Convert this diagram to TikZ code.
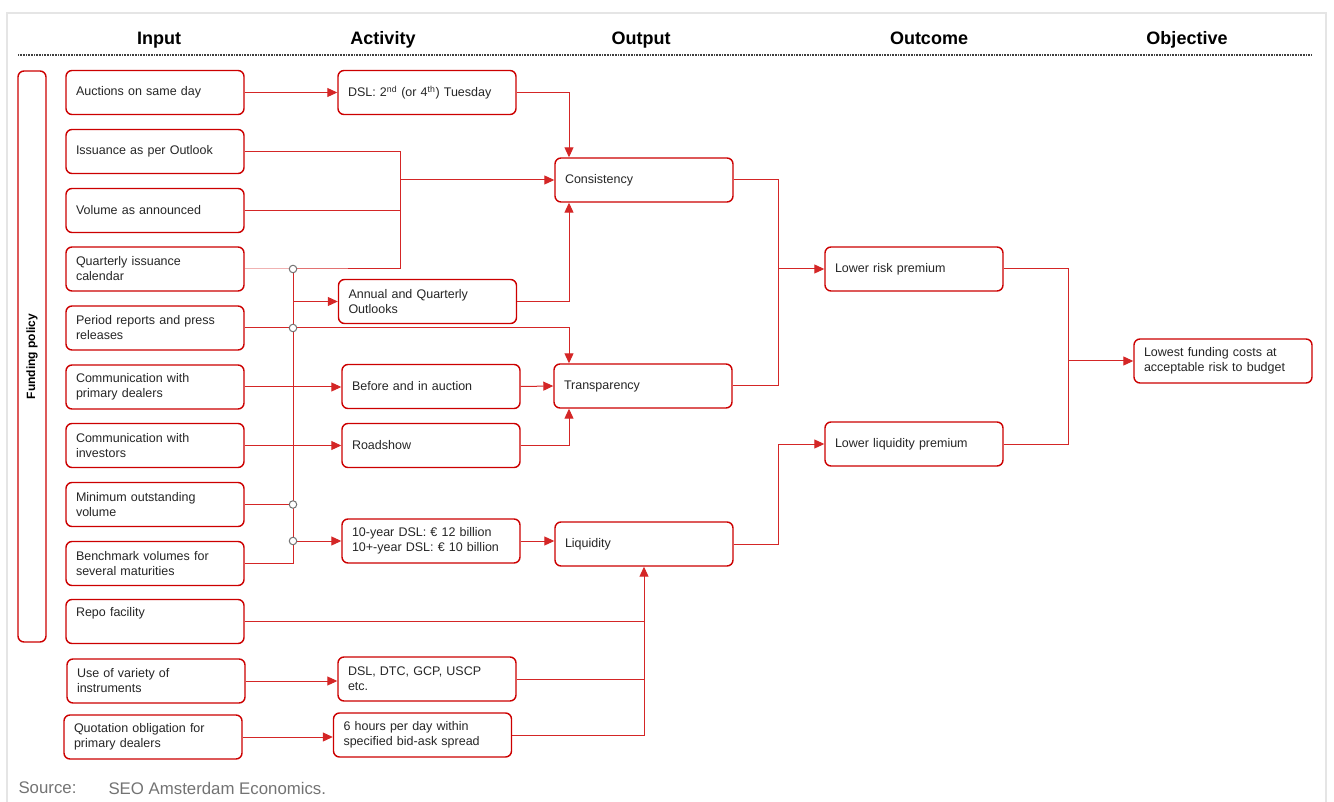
\documentclass[tikz,border=0pt]{standalone}
\usepackage{fontspec}
\setmainfont{Liberation Sans}
\usetikzlibrary{arrows.meta}
\definecolor{seored}{RGB}{204,0,0}

\begin{document}
\begin{tikzpicture}[x=1pt,y=-1pt,
  blk/.style={draw=seored,line width=1.4pt,rounded corners=6pt,fill=white,
    minimum height=44pt,text width=158pt,inner xsep=10pt,align=left,
    font=\fontsize{12.5}{15}\selectfont,text=black!85},
  ln/.style={draw=seored!85,line width=1pt},
  arr/.style={ln,-{Triangle[length=10pt,width=9pt]}},
  dot/.style={circle,draw=black!55,fill=white,line width=1pt,inner sep=0pt,minimum size=7.5pt},
  hd/.style={font=\fontsize{18}{20}\selectfont\bfseries}]
\useasboundingbox (0,0) rectangle (1334,802);
\draw[black!10,line width=1.5pt] (7,13) rectangle (1326,812);
%\draw[blue!30] (0,0) rectangle (1334,802);
\draw[black!75,line width=1.2pt,dash pattern=on 0.8pt off 0.8pt] (18,55) -- (1312,55);
\node[hd] (hin) at (159,40) {Input};
\node[hd] (hact) at (383,40) {Activity};
\node[hd] (hout) at (641,40) {Output};
\node[hd] (hoc) at (929,38) {Outcome};
\node[hd] (hobj) at (1187,40) {Objective};
\node[draw=seored,line width=1.4pt,rounded corners=6pt,rotate=90,minimum width=571pt,minimum height=28pt,
  font=\fontsize{12}{14}\selectfont\bfseries] (fp) at (32,356.5) {Funding policy};
% input column
\foreach \nm/\xx/\yy/\txt in {auc/155/92.5/{Auctions on same day},iss/155/151.5/{Issuance as per Outlook},
  vol/155/210.5/{Volume as announced},qic/155/269/{Quarterly issuance\\calendar},
  prd/155/328/{Period reports and press\\releases},cpd/155/387/{Communication with\\primary dealers},
  cin/155/445.5/{Communication with\\investors},mov/155/504.5/{Minimum outstanding\\volume},
  bmv/155/563.5/{Benchmark volumes for\\several maturities},rep/155/621.5/{Repo facility\\\strut},
  uvi/156/681/{Use of variety of\\instruments},quo/153/737/{Quotation obligation for\\primary dealers}}
  \node[blk] (\nm) at (\xx,\yy) {\txt};
% activity column
\node[blk] (dsl) at (427,92.5) {DSL: 2\textsuperscript{nd} (or 4\textsuperscript{th}) Tuesday};
\node[blk] (aqo) at (427.5,301.5) {Annual and Quarterly\\Outlooks};
\node[blk] (bia) at (431,386.5) {Before and in auction};
\node[blk] (rsh) at (431,445.5) {Roadshow};
\node[blk] (tyd) at (431,541) {10-year DSL: € 12 billion\\10+-year DSL: € 10 billion};
\node[blk] (ins) at (427,679) {DSL, DTC, GCP, USCP\\etc.};
\node[blk] (six) at (422.5,735) {6 hours per day within\\specified bid-ask spread};
% output, outcome, objective
\node[blk] (con) at (644,180) {Consistency};
\node[blk] (tra) at (643,386) {Transparency};
\node[blk] (liq) at (644,544) {Liquidity};
\node[blk] (lrp) at (914,269) {Lower risk premium};
\node[blk] (llp) at (914,444) {Lower liquidity premium};
\node[blk] (lfc) at (1223,361) {Lowest funding costs at\\acceptable risk to budget};
% junction columns
\coordinate (bus) at (293,0);
\coordinate (c1) at (400,0);
\coordinate (cx) at (569,0);
\coordinate (lx) at (644,0);
\coordinate (ox) at (778,0);
\coordinate (fx) at (1068,0);
\coordinate (j1) at (bus |- qic.east);
\coordinate (j2) at (bus |- prd.east);
\coordinate (j3) at (bus |- mov.east);
\coordinate (j4) at (bus |- tyd.west);
% connectors
\draw[arr] (auc.east) -- (auc.east -| dsl.west);
\draw[arr] (dsl.east) -| (cx |- con.north);
\draw[ln] (iss.east) -| (c1 |- qic.east);
\draw[ln] (vol.east) -- (vol.east -| c1);
\draw[arr] (c1 |- con.west) -- (con.west);
\draw[ln] (qic.east) -- (j1) -- (j1 -| c1);
\draw[ln] (j1) -- (bus |- bmv.east) -- (bmv.east);
\draw[arr] (bus |- aqo.west) -- (aqo.west);
\draw[arr] (aqo.east) -| (cx |- con.south);
\draw[ln] (prd.east) -- (j2);
\draw[arr] (j2) -| (cx |- tra.north);
\draw[arr] (cpd.east) -- (cpd.east -| bia.west);
\draw[arr] (bia.east) -- (tra.west);
\draw[arr] (cin.east) -- (cin.east -| rsh.west);
\draw[arr] (rsh.east) -| (cx |- tra.south);
\draw[ln] (mov.east) -- (j3);
\draw[arr] (j4) -- (tyd.west);
\draw[arr] (tyd.east) -- (tyd.east -| liq.west);
\draw[ln] (rep.east) -- (rep.east -| lx);
\draw[arr] (uvi.east) -- (uvi.east -| ins.west);
\draw[ln] (ins.east) -- (ins.east -| lx);
\draw[arr] (quo.east) -- (quo.east -| six.west);
\draw[arr] (six.east) -| (lx |- liq.south);
\draw[ln] (con.east) -| (ox |- tra.east) -- (tra.east);
\draw[arr] (ox |- lrp.west) -- (lrp.west);
\draw[arr] (liq.east) -| (ox |- llp.west) -- (llp.west);
\draw[ln] (lrp.east) -| (fx |- llp.east) -- (llp.east);
\draw[arr] (fx |- lfc.west) -- (lfc.west);
\foreach \j in {1,...,4}
  \node[dot] (d\j) at (j\j) {};
\node[anchor=west,text=black!55,font=\fontsize{16.8}{18}\selectfont] (src) at (15,788) {Source:};
\node[anchor=west,text=black!55,font=\fontsize{16.8}{18}\selectfont] (srct) at (105,788) {SEO Amsterdam Economics.};
\end{tikzpicture}
\end{document}
